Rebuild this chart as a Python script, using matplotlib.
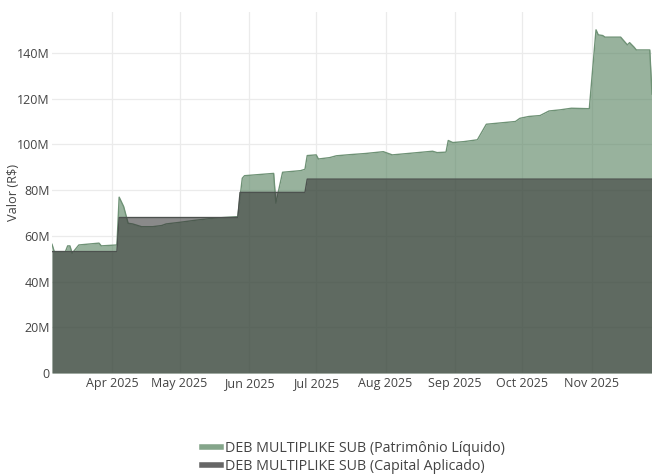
import numpy as np
import matplotlib
matplotlib.use("Agg")
import matplotlib.pyplot as plt
import matplotlib.dates as mdates
from matplotlib.lines import Line2D
from matplotlib.ticker import FuncFormatter

plt.rcParams['font.family'] = ['Open Sans', 'DejaVu Sans']

# ---- data (values in millions of R$) ----
pl_dates = ["2025-03-05", "2025-03-06", "2025-03-11", "2025-03-12", "2025-03-13", "2025-03-14",
            "2025-03-17", "2025-03-26", "2025-03-27", "2025-04-03", "2025-04-04", "2025-04-06",
            "2025-04-08", "2025-04-10", "2025-04-14", "2025-04-19", "2025-04-23", "2025-04-25",
            "2025-05-01", "2025-05-08", "2025-05-16", "2025-05-27", "2025-05-29", "2025-05-30",
            "2025-06-12", "2025-06-13", "2025-06-16", "2025-06-24", "2025-06-26", "2025-06-27",
            "2025-07-01", "2025-07-02", "2025-07-07", "2025-07-10", "2025-07-16", "2025-07-23",
            "2025-07-31", "2025-08-04", "2025-08-12", "2025-08-22", "2025-08-24", "2025-08-28",
            "2025-08-29", "2025-08-31", "2025-09-05", "2025-09-11", "2025-09-15", "2025-09-28",
            "2025-09-30", "2025-10-04", "2025-10-09", "2025-10-13", "2025-10-18", "2025-10-23",
            "2025-10-31", "2025-11-03", "2025-11-04", "2025-11-06", "2025-11-07", "2025-11-14",
            "2025-11-17", "2025-11-18", "2025-11-20", "2025-11-21", "2025-11-27", "2025-11-28"]
pl_values = [56.3, 53.1, 53.1, 55.6, 55.6, 52.4, 56.0, 56.8, 55.6,
             56.0, 76.9, 72.8, 65.5, 65.2, 64.0, 64.0, 64.5, 65.2,
             65.9, 66.8, 67.7, 68.4, 85.2, 86.3,
             87.3, 74.3, 87.8, 88.5, 89.1, 95.1,
             95.4, 93.6, 94.2, 95.0, 95.5, 96.0, 96.8,
             95.4, 96.1, 97.0, 96.4, 96.6, 101.7, 100.8,
             101.2, 102.0, 108.8, 110.0, 111.4,
             112.2, 112.6, 114.6, 115.1, 115.8, 115.6,
             150.1, 147.9, 147.6, 146.9, 146.9, 143.5, 144.5, 142.5, 141.3, 141.3, 122.0]

cap_dates = ["2025-03-05", "2025-04-03", "2025-04-04", "2025-05-27", "2025-05-28",
             "2025-06-26", "2025-06-27", "2025-11-28"]
cap_values = [53.1, 53.1, 68.0, 68.0, 79.0, 79.0, 84.8, 84.8]

month_ticks = ["2025-04-01", "2025-05-01", "2025-06-01", "2025-07-01",
               "2025-08-01", "2025-09-01", "2025-10-01", "2025-11-01"]
y_ticks = [0, 20, 40, 60, 80, 100, 120, 140]

series_names = ["DEB MULTIPLIKE SUB (Patrimônio Líquido)",
                "DEB MULTIPLIKE SUB (Capital Aplicado)"]

# ---- build ----
pl_x = np.array(pl_dates, dtype="datetime64[D]").astype("O")
pl_y = np.array(pl_values) * 1e6
cap_x = np.array(cap_dates, dtype="datetime64[D]").astype("O")
cap_y = np.array(cap_values) * 1e6

W, H = 652, 474
fig = plt.figure(figsize=(W / 100, H / 100), dpi=100)
ax = fig.add_axes([52 / W, (H - 373) / H, 600 / W, (373 - 12) / H])

green_line = "#6f9276"
green_fill = (83 / 255, 128 / 255, 92 / 255, 0.6)
gray_line = "#4d524f"
gray_fill = (54 / 255, 54 / 255, 54 / 255, 0.58)

ax.fill_between(pl_x, 0, pl_y, color=green_fill, linewidth=0, zorder=2)
ax.plot(pl_x, pl_y, color=green_line, lw=1.0, zorder=3)
ax.fill_between(cap_x, 0, cap_y, color=gray_fill, linewidth=0, zorder=4)
ax.plot(cap_x, cap_y, color=gray_line, lw=1.0, zorder=5)

ax.set_xlim(pl_x[0], pl_x[-1])
ax.set_ylim(0, 157.9e6)

tick_x = np.array(month_ticks, dtype="datetime64[D]").astype("O")
ax.set_xticks(tick_x)
ax.xaxis.set_major_formatter(mdates.DateFormatter("%b %Y"))
ax.set_yticks([v * 1e6 for v in y_ticks])
ax.yaxis.set_major_formatter(FuncFormatter(lambda v, p: "0" if v == 0 else f"{v/1e6:.0f}M"))

ax.grid(True, color="#ebebeb", lw=0.9, zorder=0)
ax.set_axisbelow(True)
for s in ax.spines.values():
    s.set_visible(False)
ax.tick_params(axis="both", length=0, colors="#444444", labelsize=9)
ax.tick_params(axis="y", pad=1.5)
ax.tick_params(axis="x", pad=3)
ax.set_ylabel("Valor (R\\$)", color="#444444", fontsize=9.2)
ax.yaxis.set_label_coords(-32 / 600, 0.5)

handles = [Line2D([], [], color="#84a58a", lw=4),
           Line2D([], [], color="#666666", lw=4)]
fig.legend(handles, series_names, loc="upper left",
           bbox_to_anchor=(195 / W, 1 - 434 / H), frameon=False,
           fontsize=10.3, handlelength=1.3, handletextpad=0.3,
           labelspacing=0.22, borderpad=0, labelcolor="#444444")

fig.savefig("out.png", dpi=100)
